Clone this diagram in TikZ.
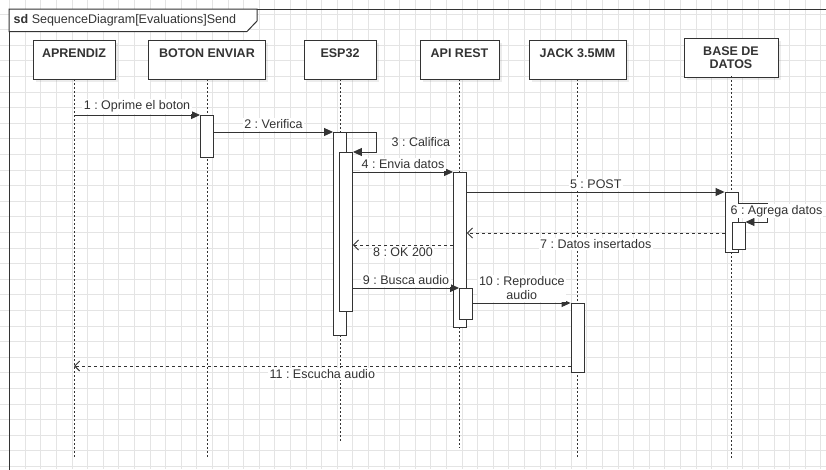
\documentclass[tikz,border=0pt]{standalone}
\usepackage{fontspec}
\setmainfont{Liberation Sans}
\usetikzlibrary{arrows.meta, shadows, calc}
\definecolor{linegray}{HTML}{333333}
\definecolor{textgray}{HTML}{333333}
\definecolor{gridgray}{HTML}{E4E4E4}
\frenchspacing

\begin{document}
\begin{tikzpicture}[x=1pt, y=-1pt, font=\fontsize{12.5}{14}\selectfont,
  every node/.style={align=center, text=textgray},
  actor/.style={rectangle, draw=linegray, line width=0.9pt, fill=white, minimum height=39pt,
    drop shadow={shadow xshift=2.5pt, shadow yshift=-2.5pt, opacity=0.15},
    font=\fontsize{12.5}{13}\selectfont\bfseries},
  act/.style={rectangle, draw=linegray, line width=0.9pt, fill=white, minimum width=13pt, inner sep=0pt, anchor=north},
  lifeline/.style={linegray, line width=0.9pt, dash pattern=on 2pt off 2pt},
  sync/.style={linegray, line width=0.9pt, -{Triangle[length=9pt, width=8pt]}},
  reply/.style={linegray, line width=0.9pt, dash pattern=on 3pt off 3pt, -{Straight Barb[length=5pt, width=10pt]}},
  msg/.style={fill=white, inner sep=1.5pt, outer sep=1.5pt}]
  \useasboundingbox (0,0) rectangle (826,469);
  \clip (0,0) rectangle (826,469);

  % --- grid and frame ---
  \foreach \gx in {0,...,53} \draw[gridgray, line width=0.6pt] (9.4+15.6*\gx, 0) -- ++(0,469);
  \foreach \gy in {0,...,29} \draw[gridgray, line width=0.6pt] (0, 13.9+15.6*\gy) -- ++(826,0);
  \draw[linegray, line width=1pt] (9,9) rectangle (840,480);
  \draw[linegray, line width=1pt, fill=white] (9,9) -- (257,9) -- (257,21) -- (247,31.5) -- (9,31.5) -- cycle;
  \node[anchor=west, inner sep=0pt] (title) at (13.5,20) {\textbf{sd} SequenceDiagram[Evaluations]Send};

  % --- participants ---
  \node[actor, minimum width=82pt, text depth=13pt] (aprendiz) at (74,59.5) {APRENDIZ};
  \node[actor, minimum width=117pt, text depth=13pt] (boton) at (207,59.5) {BOTON ENVIAR};
  \node[actor, minimum width=72pt, text depth=13pt] (esp) at (340,59.5) {ESP32};
  \node[actor, minimum width=79pt, text depth=13pt] (api) at (459.5,59.5) {API REST};
  \node[actor, minimum width=97pt, text depth=13pt] (jack) at (577.5,59.5) {JACK 3.5MM};
  \node[actor, minimum width=94pt] (base) at (731,58) {BASE DE\\DATOS};

  % --- lifelines ---
  \coordinate (end) at (0,458);
  \coordinate (endesp) at (0,443);
  \coordinate (endapi) at (0,448);
  \draw[lifeline] (aprendiz.south) -- (aprendiz |- end);
  \draw[lifeline] (boton.south) -- (boton |- end);
  \draw[lifeline] (esp.south) -- (esp |- endesp);
  \draw[lifeline] (api.south) -- (api |- endapi);
  \draw[lifeline] (jack.south) -- (jack |- end);
  \draw[lifeline] ([yshift=1.5pt]base.south) -- (base |- end);

  % --- activations ---
  \node[act, minimum height=42pt] (bact) at (207,115) {};
  \node[act, minimum height=203pt] (e1) at (340,132) {};
  \node[act, minimum height=159pt] (e2) at (346,152) {};
  \node[act, minimum height=155pt] (a1) at (460,172) {};
  \node[act, minimum height=31pt] (a2) at (466,288) {};
  \node[act, minimum height=60pt] (d1) at (731.5,192) {};
  \node[act, minimum height=27pt] (d2) at (738.5,222) {};
  \node[act, minimum height=69pt] (j1) at (577.5,303) {};

  % --- messages ---
  \coordinate (m7) at (0,233);
  \coordinate (m8) at (0,245);
  \coordinate (m11) at (0,366);
  \draw[sync] (aprendiz |- bact.north west) -- (bact.north west) node[msg, midway, above] {1 : Oprime el boton};
  \draw[sync] (bact.east |- e1.north west) -- (e1.north west) node[msg, midway, above] {2 : Verifica};
  \draw[sync] (e1.north east) -- ++(29,0) coordinate (c3) |- (e2.north east);
  \node[anchor=west, inner sep=0pt] (l3) at ([xshift=15.5pt, yshift=-10pt]c3) {3 : Califica};
  \draw[sync] (e2.east |- a1.north west) -- (a1.north west) node[msg, midway, above] {4 : Envia datos};
  \draw[sync] (a1.east |- d1.north west) -- (d1.north west) node[msg, midway, above] {5 : POST};
  \draw[sync] ([yshift=-11pt]d1.north east) -- ++(29,0) coordinate (c6) |- (d2.north east);
  \node[fill=white, inner sep=1pt] (l6) at ([xshift=9pt, yshift=-8pt]c6) {6 : Agrega datos};
  \draw[reply] (d1.west |- m7) -- (a1.east |- m7) node[msg, midway, below, yshift=-3pt] {7 : Datos insertados};
  \draw[reply] (a1.west |- m8) -- (e2.east |- m8) node[msg, midway, below] {8 : OK 200};
  \draw[sync] (e2.east |- a2.north west) -- (a2.north west) node[msg, midway, above] {9 : Busca audio};
  \draw[sync] (a2.east |- j1.north west) -- (j1.north west) node[msg, midway, above] {10 : Reproduce\\audio};
  \draw[reply] (j1.west |- m11) -- (aprendiz |- m11) node[msg, midway, below] {11 : Escucha audio};
\end{tikzpicture}
\end{document}
